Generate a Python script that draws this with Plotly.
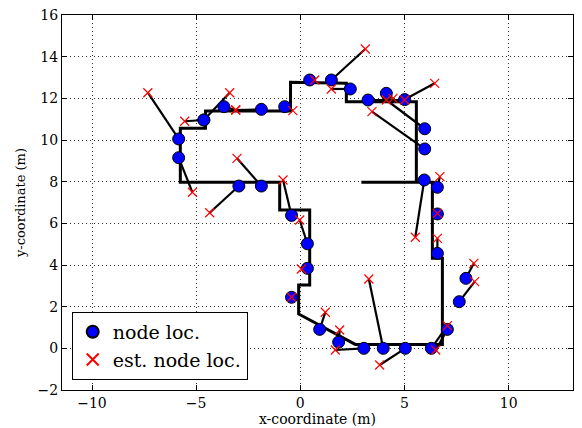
import plotly.graph_objects as go

# True node positions (m)
node_x = [-5.84, -5.84, -4.63, -4.63, -3.67, -1.87, -0.75, 0.45, 1.49, 2.40,
          3.25, 4.13, 5.01, 5.97, 5.97, 5.95, 6.58, 6.58, 6.58, 7.95,
          7.63, 7.06, 6.29, 5.04, 3.98, 3.05, 1.84, 0.93, -0.42, 0.34,
          0.34, -0.42, -1.87, -2.95]
node_y = [10.05, 9.15, 10.96, 10.96, 11.60, 11.47, 11.60, 12.88, 12.88, 12.45,
          11.92, 12.24, 11.94, 10.54, 9.57, 8.08, 7.73, 6.45, 4.56, 3.36,
          2.24, 0.91, 0.00, 0.00, 0.00, 0.00, 0.30, 0.91, 2.45, 3.84,
          5.02, 6.38, 7.79, 7.79]

# Estimated node positions (m), same order as the nodes
est_x = [-7.32, -5.18, -5.55, -3.39, -3.10, -3.10, -0.36, 0.69, 3.12, 1.49,
         5.01, 4.45, 6.45, 4.13, 3.44, 5.52, 6.70, 6.58, 6.58, 8.33,
         8.37, 6.50, 7.06, 3.81, 3.29, 1.68, 1.89, 1.20, -0.42, 0.05,
         -0.03, -0.83, -3.04, -4.35]
est_y = [12.27, 7.49, 10.90, 12.27, 11.44, 11.44, 11.41, 12.88, 14.37, 12.45,
         11.92, 12.00, 12.72, 11.92, 11.36, 5.33, 8.24, 6.48, 5.28, 4.08,
         3.20, -0.08, 1.09, -0.80, 3.33, -0.08, 0.88, 1.73, 2.45, 3.81,
         6.16, 8.08, 9.12, 6.51]

# Walked route
route_x = [2.93, 5.57, 5.57, 2.21, 2.21, -0.47, -0.47, -4.55, -4.55, -5.76,
           -5.76, -0.99, -0.99, 0.45, 0.45, -0.08, -0.08, 2.64, 6.82, 6.82,
           6.34, 6.34, 5.57]
route_y = [7.97, 7.97, 11.84, 11.84, 12.72, 12.77, 11.39, 11.39, 10.56, 10.56,
           7.97, 7.97, 6.64, 6.64, 3.04, 3.04, 1.65, 0.19, 0.19, 4.32,
           4.32, 7.97, 7.97]

x_ticks = [-10, -5, 0, 5, 10]
y_ticks = [-2, 0, 2, 4, 6, 8, 10, 12, 14, 16]

FONT = "DejaVu Serif"

fig = go.Figure()

fig.add_trace(go.Scatter(
    x=route_x, y=route_y, mode="lines",
    line=dict(color="black", width=3), showlegend=False, hoverinfo="skip"))

# Error segments joining each node to its estimate
seg_x, seg_y = [], []
for nx, ny, ex, ey in zip(node_x, node_y, est_x, est_y):
    seg_x += [nx, ex, None]
    seg_y += [ny, ey, None]
fig.add_trace(go.Scatter(
    x=seg_x, y=seg_y, mode="lines",
    line=dict(color="black", width=2.2), showlegend=False, hoverinfo="skip"))

fig.add_trace(go.Scatter(
    x=node_x, y=node_y, mode="markers", name="node loc.",
    marker=dict(symbol="circle", size=12, color="#0000ff",
                line=dict(color="black", width=1))))

fig.add_trace(go.Scatter(
    x=est_x, y=est_y, mode="markers", name="est. node loc.",
    marker=dict(symbol="x-thin", size=9, color="red",
                line=dict(color="red", width=1.2))))

axis_common = dict(
    showline=True, linecolor="black", linewidth=1.2, mirror="ticks",
    ticks="inside", ticklen=5, tickcolor="black", tickwidth=1,
    showgrid=True, gridcolor="#333333", griddash="1px,3px", gridwidth=1,
    zeroline=False, automargin=False,
    tickfont=dict(family=FONT, size=14, color="black"),
)

fig.update_xaxes(
    range=[-11.44, 13.09], tickvals=x_ticks,
    ticktext=[str(v).replace("-", "\u2212") for v in x_ticks],
    title=dict(text="x-coordinate (m)", font=dict(family=FONT, size=14, color="black"),
               standoff=4),
    **axis_common)
fig.update_yaxes(
    range=[-2, 16], tickvals=y_ticks,
    ticktext=[str(v).replace("-", "\u2212") for v in y_ticks],
    title=dict(text="y-coordinate (m)", font=dict(family=FONT, size=13, color="black"),
               standoff=8),
    **axis_common)

fig.update_layout(
    width=582, height=428,
    margin=dict(l=62, r=9, t=15, b=38),
    paper_bgcolor="white", plot_bgcolor="white",
    font=dict(family=FONT, size=14, color="black"),
    legend=dict(x=0.019, y=0.027, xanchor="left", yanchor="bottom",
                bgcolor="white", bordercolor="black", borderwidth=1,
                font=dict(family=FONT, size=19, color="black"),
                itemsizing="constant", tracegroupgap=0, itemwidth=30),
    showlegend=True,
)

fig.write_html("out.html")
